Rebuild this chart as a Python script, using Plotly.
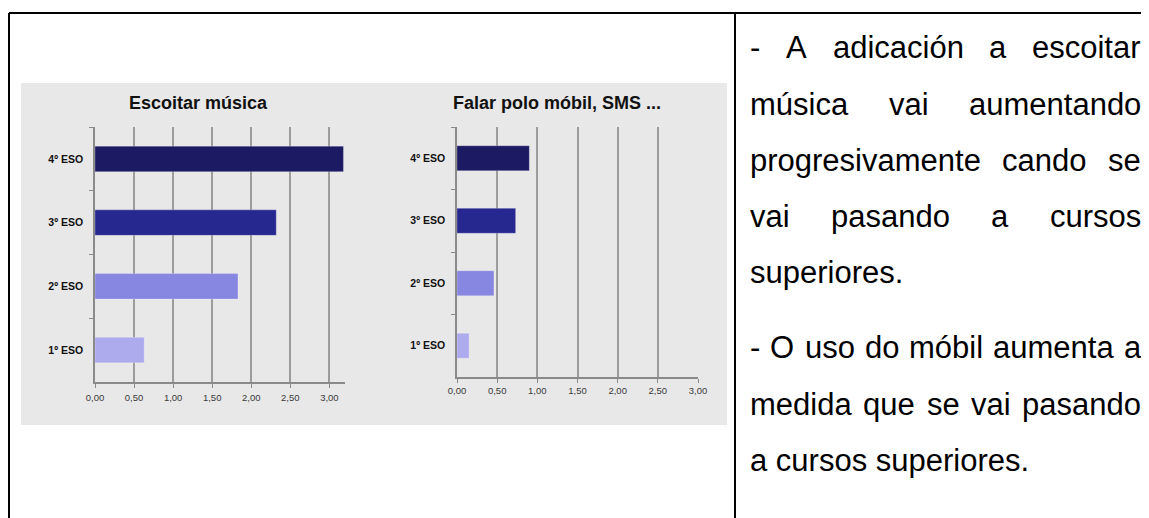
import plotly.graph_objects as go

# ---------------- data ----------------
categories = ["1º ESO", "2º ESO", "3º ESO", "4º ESO"]
music_values = [0.63, 1.83, 2.32, 3.18]
mobile_values = [0.15, 0.46, 0.73, 0.90]
bar_colors = ["#aeaaee", "#8786e0", "#27288f", "#1c1a62"]
title_left = "Escoitar música"
title_right = "Falar polo móbil, SMS ..."

paragraph_lines = [
    ("- A adicación a escoitar", True),
    ("música vai aumentando", True),
    ("progresivamente cando se", True),
    ("vai pasando a cursos", True),
    ("superiores.", False),
    ("- O uso do móbil aumenta a", True),
    ("medida que se vai pasando", True),
    ("a cursos superiores.", False),
]
line_centers = [48, 104, 160, 216, 272, 347, 404, 460]

# ---------------- layout helpers ----------------
# the page body has an 8px margin, so the figure is sized to the visible area
OFF = 8
W, H = 1149 - OFF, 518 - OFF


def px(x):
    return (x - OFF) / W


def py(y):
    return 1 - (y - OFF) / H


FONT = "Liberation Sans, Arial, sans-serif"

# Arial / Liberation Sans advance widths (per 1000 em)
AW = {
    "-": 333, " ": 278, "A": 667, "O": 778, "a": 556, "d": 556, "i": 222,
    "c": 500, "ó": 556, "n": 556, "e": 556, "s": 500, "o": 556, "t": 278,
    "r": 333, "m": 833, "ú": 556, "v": 500, "u": 556, "p": 556, "g": 556,
    "l": 222, "b": 556, "q": 556, ".": 278,
}


def text_width(s, size):
    return sum(AW.get(ch, 556) for ch in s) / 1000.0 * size


fig = go.Figure()

fig.add_trace(go.Bar(
    x=music_values, y=categories, orientation="h",
    marker=dict(color=bar_colors, line=dict(color="rgba(255,255,255,0.25)", width=1)),
    width=0.4, xaxis="x", yaxis="y", showlegend=False, hoverinfo="x+y",
))
fig.add_trace(go.Bar(
    x=mobile_values, y=categories, orientation="h",
    marker=dict(color=bar_colors, line=dict(color="rgba(255,255,255,0.25)", width=1)),
    width=0.4, xaxis="x2", yaxis="y2", showlegend=False, hoverinfo="x+y",
))

xaxis_common = dict(
    showgrid=True, gridcolor="#9c9c9c", gridwidth=1.5, zeroline=False,
    showline=True, linecolor="#8a8a8a", linewidth=1.5,
    ticks="outside", ticklen=4, tickcolor="#8a8a8a", dtick=0.5, tick0=0,
    tickformat=".2f", tickfont=dict(family=FONT, size=9.5, color="#3a3a3a"),
    fixedrange=True, automargin=False,
)
yaxis_common = dict(
    type="category", categoryorder="array", categoryarray=categories,
    range=[-0.5, 3.5], showgrid=False, zeroline=False,
    showline=True, linecolor="#8a8a8a", linewidth=1.5,
    ticks="outside", ticklen=4, tickcolor="#8a8a8a", tickson="boundaries",
    tickfont=dict(family=FONT, size=10.5, color="#111111", weight="bold"),
    ticklabelstandoff=8, fixedrange=True, automargin=False,
)

fig.update_layout(
    template="none",
    width=W, height=H,
    margin=dict(l=0, r=0, t=0, b=0, pad=0, autoexpand=False),
    paper_bgcolor="white", plot_bgcolor="rgba(0,0,0,0)",
    separators=",.",
    xaxis=dict(domain=[px(95), px(345)], range=[0, 3.2], anchor="y",
               ticklabelstandoff=2, **xaxis_common),
    yaxis=dict(domain=[py(382), py(127)], anchor="x", **yaxis_common),
    xaxis2=dict(domain=[px(457), px(698)], range=[0, 3.0], anchor="y2",
                ticklabelstandoff=0, **xaxis_common),
    yaxis2=dict(domain=[py(377), py(127)], anchor="x2", **yaxis_common),
    bargap=0.6,
)

shapes = []
# gray chart panel
shapes.append(dict(type="rect", xref="paper", yref="paper", layer="below",
                   x0=px(21), x1=px(727), y0=py(425), y1=py(83),
                   fillcolor="#e8e8e8", line=dict(width=0)))
# table borders
border = dict(color="black", width=2)
shapes.append(dict(type="line", xref="paper", yref="paper", x0=px(9), x1=1, y0=py(13), y1=py(13), line=border))
shapes.append(dict(type="line", xref="paper", yref="paper", x0=px(9), x1=px(9), y0=py(13), y1=0, line=border))
shapes.append(dict(type="line", xref="paper", yref="paper", x0=px(735), x1=px(735), y0=py(13), y1=0, line=border))
fig.update_layout(shapes=shapes)

annotations = []
annotations.append(dict(text=title_left, xref="paper", yref="paper", x=px(198), y=py(103),
                        xanchor="center", yanchor="middle", showarrow=False,
                        font=dict(family=FONT, size=18, color="#111111", weight="bold")))
annotations.append(dict(text=title_right, xref="paper", yref="paper", x=px(557), y=py(103),
                        xanchor="center", yanchor="middle", showarrow=False,
                        font=dict(family=FONT, size=18, color="#111111", weight="bold")))

# justified paragraph text
TXT_SIZE = 31
left_x, right_x = 748, 1139
for (line, justify), yc in zip(paragraph_lines, line_centers):
    if not justify:
        annotations.append(dict(text=line, xref="paper", yref="paper", x=px(left_x), y=py(yc),
                                xanchor="left", yanchor="middle", showarrow=False,
                                font=dict(family=FONT, size=TXT_SIZE, color="#000000")))
        continue
    words = line.split(" ")
    widths = [text_width(w, TXT_SIZE) for w in words]
    gap = (right_x - left_x - sum(widths)) / (len(words) - 1)
    x = left_x
    for w, ww in zip(words, widths):
        annotations.append(dict(text=w, xref="paper", yref="paper", x=px(x), y=py(yc),
                                xanchor="left", yanchor="middle", showarrow=False,
                                font=dict(family=FONT, size=TXT_SIZE, color="#000000")))
        x += ww + gap
fig.update_layout(annotations=annotations)

fig.write_html("out.html")
